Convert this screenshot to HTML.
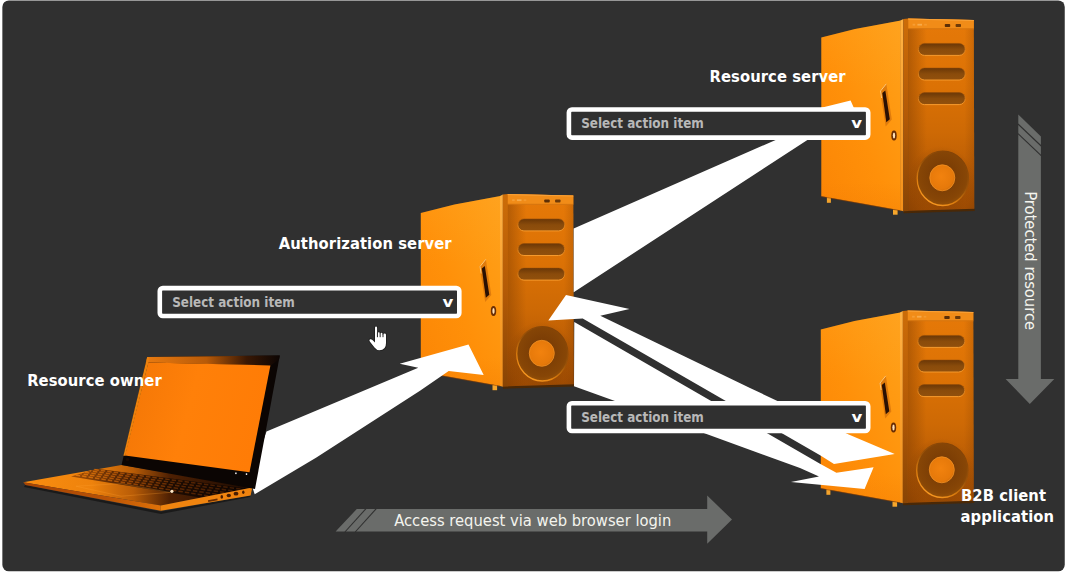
<!DOCTYPE html>
<html lang="en">
<head>
<meta charset="utf-8">
<title>OAuth flow diagram</title>
<style>
html,body{margin:0;padding:0;background:#fff;}
body{width:1067px;height:577px;overflow:hidden;position:relative;}
svg{position:absolute;left:0;top:0;display:block;}
.lbl{font-family:"DejaVu Sans Condensed","Liberation Sans",sans-serif;font-weight:bold;font-size:16.4px;letter-spacing:.08px;fill:#fff;}
.sel{font-family:"DejaVu Sans Condensed","Liberation Sans",sans-serif;font-weight:bold;font-size:13.35px;fill:#b8b8b8;}
.vv{font-family:"DejaVu Sans","Liberation Sans",sans-serif;font-weight:bold;font-size:14.3px;fill:#fff;}
.arr{font-family:"DejaVu Sans Condensed","Liberation Sans",sans-serif;font-size:16.4px;fill:#f4f4ee;}
</style>
</head>
<body>
<svg width="1067" height="577" viewBox="0 0 1067 577">
<defs>
  <!-- server gradients -->
  <linearGradient id="gSide" x1="0" y1="1" x2="1" y2="0">
    <stop offset="0" stop-color="#fb8505"/>
    <stop offset="0.45" stop-color="#ff9009"/>
    <stop offset="0.75" stop-color="#ff9a12"/>
    <stop offset="1" stop-color="#ffa21c"/>
  </linearGradient>
  <linearGradient id="gSideShade" x1="0" y1="0" x2="0" y2="1">
    <stop offset="0" stop-color="#ffa528" stop-opacity=".2"/>
    <stop offset="0.35" stop-color="#ffa528" stop-opacity="0"/>
    <stop offset="0.85" stop-color="#f07c04" stop-opacity="0"/>
    <stop offset="1" stop-color="#f07c04" stop-opacity=".3"/>
  </linearGradient>
  <linearGradient id="gFront" x1="0" y1="0" x2="0" y2="1">
    <stop offset="0" stop-color="#e67908"/>
    <stop offset="0.35" stop-color="#dc7205"/>
    <stop offset="0.6" stop-color="#cd6905"/>
    <stop offset="0.8" stop-color="#ba5c04"/>
    <stop offset="1" stop-color="#9c4a02"/>
  </linearGradient>
  <linearGradient id="gFrontH" x1="0" y1="0" x2="1" y2="0">
    <stop offset="0" stop-color="#7a3a02" stop-opacity=".45"/>
    <stop offset="0.28" stop-color="#7a3a02" stop-opacity="0"/>
    <stop offset="0.85" stop-color="#7a3a02" stop-opacity="0"/>
    <stop offset="1" stop-color="#7a3a02" stop-opacity=".25"/>
  </linearGradient>
  <linearGradient id="gBevel" x1="0" y1="0" x2="1" y2="0">
    <stop offset="0" stop-color="#ffab3a"/>
    <stop offset="0.35" stop-color="#f89a24"/>
    <stop offset="0.42" stop-color="#b65c06"/>
    <stop offset="1" stop-color="#9a4c04"/>
  </linearGradient>
  <linearGradient id="gBevL" x1="0" y1="0" x2="0" y2="1">
    <stop offset="0" stop-color="#ffb244"/>
    <stop offset="1" stop-color="#f59018"/>
  </linearGradient>
  <linearGradient id="gBevD" x1="0" y1="0" x2="0" y2="1">
    <stop offset="0" stop-color="#cc6c08"/>
    <stop offset="0.5" stop-color="#b45a06"/>
    <stop offset="1" stop-color="#884404"/>
  </linearGradient>
  <linearGradient id="gVent" x1="0" y1="0" x2="0" y2="1">
    <stop offset="0" stop-color="#7c4008"/>
    <stop offset="1" stop-color="#a0570e"/>
  </linearGradient>
  <linearGradient id="gVentRim" x1="0" y1="0" x2="0" y2="1">
    <stop offset="0" stop-color="#b86008"/>
    <stop offset="1" stop-color="#f79a2c"/>
  </linearGradient>
  <pattern id="pMesh" width="1.8" height="1.8" patternUnits="userSpaceOnUse">
    <rect width="1.8" height="1.8" fill="#aa6010"/>
    <circle cx=".9" cy=".9" r=".62" fill="#663205"/>
  </pattern>
  <linearGradient id="gVentSh" x1="0" y1="0" x2="0" y2="1">
    <stop offset="0" stop-color="#4a2202" stop-opacity=".55"/>
    <stop offset="0.5" stop-color="#4a2202" stop-opacity=".1"/>
    <stop offset="1" stop-color="#4a2202" stop-opacity="0"/>
  </linearGradient>
  <radialGradient id="gFan" cx="0.5" cy="0.45" r="0.55">
    <stop offset="0.4" stop-color="#7c3e05"/>
    <stop offset="0.85" stop-color="#874606"/>
    <stop offset="1" stop-color="#945008"/>
  </radialGradient>
  <linearGradient id="gFanRim" x1="0.8" y1="0" x2="0.2" y2="1">
    <stop offset="0" stop-color="#7e4006"/>
    <stop offset="0.45" stop-color="#9a5208"/>
    <stop offset="0.75" stop-color="#e0800f"/>
    <stop offset="1" stop-color="#ffa028"/>
  </linearGradient>
  <radialGradient id="gHub" cx="0.45" cy="0.45" r="0.6">
    <stop offset="0" stop-color="#f2820e"/>
    <stop offset="0.8" stop-color="#e6790a"/>
    <stop offset="1" stop-color="#d06a08"/>
  </radialGradient>
  <radialGradient id="gGlow" cx="0.5" cy="0.5" r="0.5">
    <stop offset="0" stop-color="#8a4404" stop-opacity=".45"/>
    <stop offset="0.7" stop-color="#8a4404" stop-opacity=".3"/>
    <stop offset="1" stop-color="#8a4404" stop-opacity="0"/>
  </radialGradient>

  <!-- laptop gradients -->
  <linearGradient id="gScreen" x1="0" y1="0" x2="1" y2="0.2">
    <stop offset="0" stop-color="#f27606"/>
    <stop offset="0.5" stop-color="#ff8009"/>
    <stop offset="1" stop-color="#ff7c06"/>
  </linearGradient>
  <linearGradient id="gTopBezel" x1="0" y1="0" x2="1" y2="0">
    <stop offset="0" stop-color="#e87a10"/>
    <stop offset="0.45" stop-color="#b85a08"/>
    <stop offset="0.75" stop-color="#3a1804"/>
    <stop offset="1" stop-color="#0c0503"/>
  </linearGradient>
  <linearGradient id="gDeck" x1="0" y1="0" x2="1" y2="0">
    <stop offset="0" stop-color="#fa8e10"/>
    <stop offset="0.3" stop-color="#ee820c"/>
    <stop offset="0.48" stop-color="#b85c07"/>
    <stop offset="0.64" stop-color="#4e2003"/>
    <stop offset="1" stop-color="#1a0a02"/>
  </linearGradient>
  <linearGradient id="gKeys" x1="0" y1="0" x2="1" y2="0">
    <stop offset="0" stop-color="#a85206"/>
    <stop offset="0.25" stop-color="#5a2804"/>
    <stop offset="0.55" stop-color="#1e0c02"/>
    <stop offset="1" stop-color="#0c0402"/>
  </linearGradient>
  <linearGradient id="gKeyTop" gradientUnits="userSpaceOnUse" x1="71" y1="0" x2="246" y2="0">
    <stop offset="0" stop-color="#e87c0c"/>
    <stop offset="0.3" stop-color="#a04a05"/>
    <stop offset="0.6" stop-color="#5a2603"/>
    <stop offset="1" stop-color="#3a1802"/>
  </linearGradient>
  <linearGradient id="gFrontEdge" x1="0" y1="0" x2="1" y2="0">
    <stop offset="0" stop-color="#a84403"/>
    <stop offset="0.6" stop-color="#b85205"/>
    <stop offset="1" stop-color="#e07208"/>
  </linearGradient>

  <clipPath id="cFront"><polygon points="908.2,18.6 973.8,20 974.3,208.8 908.2,210.8"/></clipPath>
  <!-- server symbol, drawn at the Resource server position -->
  <g id="server">
    <!-- soft shadow under the front -->
    <polygon points="903.5,210.5 974.6,208.4 974.8,211 903.5,213.2" fill="#4a2806"/>
    <!-- feet -->
    <rect x="826.9" y="197" width="4" height="5.8" fill="#f3a32c"/>
    <rect x="893" y="209.5" width="4.6" height="5.2" fill="#f6a62c"/>
    <!-- side panel -->
    <polygon points="821.3,37.6 855,29 900.8,20.4 900.8,210.5 821.3,196.2" fill="url(#gSide)"/>
    <polygon points="821.3,37.6 855,29 900.8,20.4 900.8,210.5 821.3,196.2" fill="url(#gSideShade)"/>
    <line x1="821.3" y1="196.5" x2="900.8" y2="210.8" stroke="#8a3e02" stroke-width="1" opacity=".55"/>
    <!-- bevel between side and front -->
    <polygon points="900.5,20.5 903.4,19 903.4,211.3 900.5,210.5" fill="url(#gBevL)"/><polygon points="903.3,19 908.5,18.6 908.5,211 903.3,211.3" fill="url(#gBevD)"/>
    <!-- front face -->
    <polygon points="908.2,18.6 973.8,20 974.3,208.8 908.2,210.8" fill="url(#gFront)"/>
    <polygon points="908.2,18.6 973.8,20 974.3,208.8 908.2,210.8" fill="url(#gFrontH)"/>
    <!-- top band -->
    <polygon points="908.2,18.6 973.8,20 973.8,28.6 908.2,28.4" fill="#f18c18"/>
    <line x1="908.2" y1="28.7" x2="973.8" y2="28.9" stroke="#d67610" stroke-width="1"/>
    <line x1="908.2" y1="19.1" x2="973.8" y2="20.5" stroke="#f9a238" stroke-width="1"/>
    <rect x="912.6" y="23.8" width="2.6" height="1.8" fill="#ffb860" opacity=".4"/>
    <rect x="917.4" y="23.8" width="4.6" height="1.8" fill="#ffd08a" opacity=".45"/>
    <rect x="924.2" y="23.8" width="2.6" height="1.8" fill="#ffb860" opacity=".3"/>
    <rect x="944.8" y="24" width="5.4" height="3" rx=".8" fill="#5c2e06"/>
    <rect x="955.6" y="24" width="5.4" height="3" rx=".8" fill="#6e3a08"/>
    <!-- vents -->
    <rect x="918.4" y="43.4" width="46.8" height="12" rx="6" fill="url(#pMesh)" stroke="url(#gVentRim)" stroke-width="1"/><rect x="918.4" y="43.4" width="46.8" height="12" rx="6" fill="url(#gVentSh)"/>
    <rect x="918.4" y="68" width="46.8" height="12" rx="6" fill="url(#pMesh)" stroke="url(#gVentRim)" stroke-width="1"/><rect x="918.4" y="68" width="46.8" height="12" rx="6" fill="url(#gVentSh)"/>
    <rect x="918.4" y="92.6" width="46.8" height="12" rx="6" fill="url(#pMesh)" stroke="url(#gVentRim)" stroke-width="1"/><rect x="918.4" y="92.6" width="46.8" height="12" rx="6" fill="url(#gVentSh)"/>
    <!-- fan -->
    <ellipse cx="941" cy="182" rx="34" ry="36" fill="url(#gGlow)" clip-path="url(#cFront)"/>
    <ellipse cx="942.8" cy="178.3" rx="25.6" ry="27.2" fill="url(#gFan)" stroke="url(#gFanRim)" stroke-width="1.3"/>
    <ellipse cx="942.3" cy="177.8" rx="12.5" ry="13" fill="url(#gHub)" stroke="#f39022" stroke-width=".8"/>
    <!-- handle -->
    <polygon points="886.3,83.4 880.1,91 885.7,126.6 891.8,119.6" fill="#df7b0c"/>
    <polyline points="886.3,83.8 880.5,91 881.6,98" fill="none" stroke="#ffc878" stroke-width="1"/>
    <polygon points="882.3,93 885.3,90.4 889.8,119.2 886.3,122.2" fill="#2a1003"/>
    <!-- lock -->
    <ellipse cx="894" cy="135.6" rx="2.7" ry="5" fill="#6a2e04"/><ellipse cx="894" cy="135.6" rx="1.15" ry="3" fill="#ffe2b8"/>
  </g>
</defs>

<!-- dark panel -->
<rect x="2.35" y="0.4" width="1062.4" height="570.9" rx="6.5" ry="6.5" fill="#303030"/>

<!-- servers -->
<use href="#server"/>
<use href="#server" transform="translate(-400.5 175.5)"/>
<use href="#server" transform="translate(-0.5 292)"/>

<!-- white arrows -->
<g fill="#fff">
  <!-- laptop -> authorization server -->
  <polygon points="266.5,431.6 418.3,367.7 399.7,363.8 468.5,344.6 483.7,375.1 448.7,371.1 420,390.8 316,457.7 254.7,494.3 250,480"/>
  <!-- authorization server -> resource server -->
  <polygon points="573.7,228.5 812,124 790,115.4 850.6,100.4 861,124 832,124 573.7,292.2"/>
  <!-- B2B -> authorization server (upper) -->
  <polygon points="566,295 629.5,308.9 600.3,315.8 750,388 848.7,434.6 894.7,454.1 834,464 820.5,455.6 582.7,318.5 548.3,320.4"/>
  <!-- authorization server -> B2B (lower) -->
  <polygon points="574.3,322.1 820,463.7 836.4,472.8 873.6,467.2 864.6,489 790.9,482.1 819,476.4 800,467.9 706.5,434.1 574,386.2"/>
</g>

<!-- laptop -->
<g id="laptop">
  <!-- base shadow -->
  <polygon points="25,485 160.8,511.5 251,495.2 250,497 161,514 24,487" fill="#111" opacity=".7"/>
  <!-- deck -->
  <polygon points="23.3,482.3 121.5,465 252.3,487.4 160.8,505.6" fill="url(#gDeck)"/>
  <!-- keys -->
  <polygon points="97,468.8 247,488.4 200,497.6 71,476.4" fill="url(#gKeys)"/>
  <line x1="94.4" y1="469.6" x2="242.3" y2="489.3" stroke="url(#gKeyTop)" stroke-width="1.5" stroke-dasharray="4.4 2.1" stroke-dashoffset="0"/>
  <line x1="89.7" y1="470.9" x2="233.8" y2="491.0" stroke="url(#gKeyTop)" stroke-width="1.5" stroke-dasharray="4.4 2.1" stroke-dashoffset="3.2"/>
  <line x1="85.0" y1="472.3" x2="225.4" y2="492.6" stroke="url(#gKeyTop)" stroke-width="1.5" stroke-dasharray="4.4 2.1" stroke-dashoffset="0"/>
  <line x1="80.4" y1="473.7" x2="216.9" y2="494.3" stroke="url(#gKeyTop)" stroke-width="1.5" stroke-dasharray="4.4 2.1" stroke-dashoffset="3.2"/>
  <line x1="75.7" y1="475.0" x2="208.5" y2="495.9" stroke="url(#gKeyTop)" stroke-width="1.5" stroke-dasharray="4.4 2.1" stroke-dashoffset="0"/>
  <!-- touchpad -->
  <polygon points="76,486.2 121,483.6 170,492.4 121,496.2" fill="none" stroke="#ffa030" stroke-opacity=".35" stroke-width=".8"/>
  <!-- front edge -->
  <polygon points="23.3,482.3 160.8,505.6 160.8,510.8 25.5,485" fill="url(#gFrontEdge)"/>
  <!-- right side -->
  <polygon points="160.8,505.6 252.3,487.4 250.6,495.4 160.8,510.8" fill="#f0840f"/>
  <rect x="208" y="499.4" width="9.6" height="1.8" fill="#6a2e04" transform="rotate(-10.5 212.8 500.3)"/>
  <ellipse cx="221.8" cy="496.9" rx="1.3" ry="1.8" fill="#4a1e03"/>
  <ellipse cx="228.8" cy="495.5" rx="2.2" ry="1.8" fill="#4a1e03"/>
  <ellipse cx="236" cy="493.7" rx="2.4" ry="1.9" fill="#4a1e03"/>
  <ellipse cx="243.3" cy="492.2" rx="1.2" ry="1.7" fill="#4a1e03"/>
  <circle cx="171.9" cy="491.3" r="1.6" fill="#ffe9c8"/>
  <!-- lid -->
  <polygon points="147.2,357.1 279.8,355.4 255,489 121.5,465" fill="#0b0503"/>
  <polygon points="147.2,357.1 279.8,355.4 279,359.5 270.6,365.6 148.3,362.4 146.4,360.4" fill="url(#gTopBezel)"/>
  <!-- screen -->
  <polygon points="148.3,362.4 270.4,365.4 249.5,472.2 125,455.6" fill="url(#gScreen)"/>
  <polygon points="147.1,357.2 148.9,357.2 148.5,362.4 125.3,455.8 123.4,455.8" fill="#ec820e"/>
  <rect x="235.2" y="472.5" width="1.4" height="1.6" fill="#fff"/>
  <rect x="245.8" y="473.3" width="1.4" height="1.6" fill="#fff"/>
  <ellipse cx="127.5" cy="459.6" rx="1.8" ry="1.5" fill="#1a0a02"/>
</g>

<!-- gray arrows -->
<g fill="#6a6c6a">
  <polygon points="356.8,509 707.2,509 707.2,495.5 732,519.6 707.2,543.8 707.2,531.6 335.6,531.6"/>
  <polygon points="1018.3,114.4 1040.9,136.4 1040.9,378.9 1054.3,378.9 1029.8,404 1005.6,378.9 1018.3,378.9"/>
</g>
<g stroke="#303030" stroke-width="1.1" fill="none">
  <line x1="344.9" y1="532" x2="366" y2="508.6"/>
  <line x1="355.2" y1="532" x2="376.3" y2="508.6"/>
  <line x1="1018" y1="124" x2="1041.2" y2="146"/>
  <line x1="1018" y1="133.6" x2="1041.2" y2="155.6"/>
</g>
<text class="arr" x="394.2" y="525.6">Access request via web browser login</text>
<text class="arr" transform="translate(1024.9 191.2) rotate(90)">Protected resource</text>

<!-- dropdowns -->
<g>
  <rect x="159.8" y="288.1" width="299.5" height="27.9" rx="3" fill="#303030" stroke="#fff" stroke-width="4.6"/>
  <text class="sel" x="172.2" y="306.8">Select action item</text>
  <text class="vv" transform="translate(442.5 306.7) scale(1.16 1)">v</text>

  <rect x="568.9" y="109.5" width="299.3" height="28.1" rx="3" fill="#303030" stroke="#fff" stroke-width="4.6"/>
  <text class="sel" x="581.2" y="128.3">Select action item</text>
  <text class="vv" transform="translate(851.3 128.3) scale(1.16 1)">v</text>

  <rect x="568.9" y="403.3" width="299.3" height="27.7" rx="3" fill="#303030" stroke="#fff" stroke-width="4.6"/>
  <text class="sel" x="581.2" y="422">Select action item</text>
  <text class="vv" transform="translate(851.4 421.9) scale(1.16 1)">v</text>
</g>

<!-- labels -->
<text class="lbl" x="709.6" y="81.7">Resource server</text>
<text class="lbl" x="278.8" y="249.4">Authorization server</text>
<text class="lbl" x="27.2" y="385.9">Resource owner</text>
<text class="lbl" x="961" y="501.4">B2B client</text>
<text class="lbl" x="960.6" y="522">application</text>

<!-- hand cursor -->
<g>
  <path id="hand" d="M375,327.7 Q375,326.6 376,326.6 Q377.1,326.6 377.1,327.7 L377.1,333.2 L377.7,333.2 Q377.7,332.2 378.7,332.2 Q379.8,332.2 379.8,333.2 L379.8,333.8 L380.4,333.8 Q380.4,332.8 381.4,332.8 Q382.5,332.8 382.5,333.8 L382.5,334.4 L383.2,334.4 Q383.2,333.4 384.6,333.4 Q386,333.4 386,334.8 L386,343 Q386,350.2 379.5,350.2 Q376.5,350.2 374.5,347.5 L369.8,341.5 Q368.8,340 370,339.3 Q371.2,338.8 372.2,339.8 L375,342.5 Z" fill="#fff" stroke="#1e1e1e" stroke-width="1.6" paint-order="stroke" stroke-linejoin="round"/>
  <g stroke="#1c1c1c" stroke-width=".95">
    <line x1="377.45" y1="332.6" x2="377.45" y2="337.2"/>
    <line x1="380.15" y1="333.2" x2="380.15" y2="337.2"/>
    <line x1="383" y1="333.8" x2="383" y2="337.2"/>
  </g>
</g>
</svg>
</body>
</html>
